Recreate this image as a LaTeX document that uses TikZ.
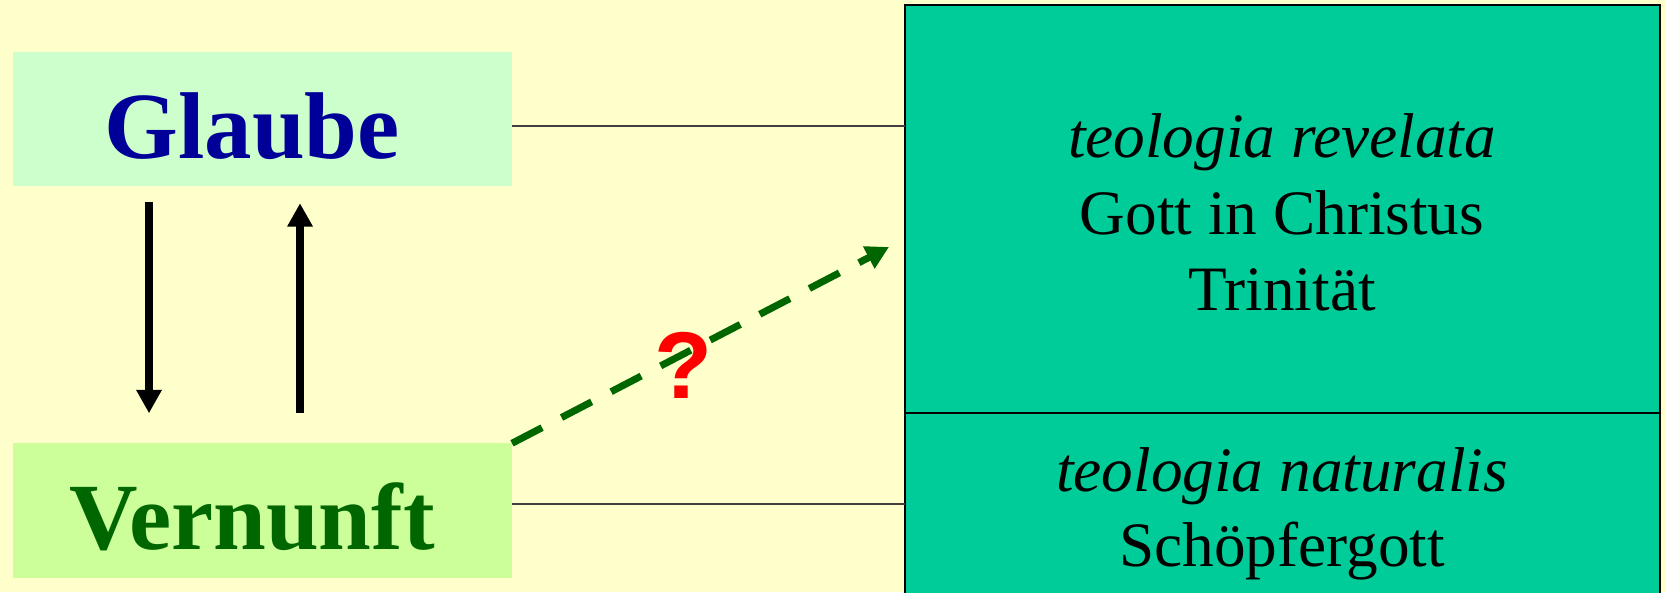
\documentclass[tikz,border=0pt]{standalone}
\usepackage{fontspec}
\setmainfont{Liberation Serif}
\newfontfamily\qfont{Liberation Sans}
\usetikzlibrary{arrows.meta}
\definecolor{bgYellow}{RGB}{255,255,204}
\definecolor{boxMint}{RGB}{204,255,204}
\definecolor{boxLime}{RGB}{204,255,153}
\definecolor{boxTeal}{RGB}{0,204,153}
\definecolor{textBlue}{RGB}{0,0,153}
\definecolor{textGreen}{RGB}{0,102,0}

\begin{document}
\begin{tikzpicture}[x=0.02cm, y=-0.02cm,
    wordbox/.style={rectangle, inner sep=0pt, outer sep=0pt, minimum width=284pt, minimum height=76.5pt},
    bigword/.style={font=\fontsize{54pt}{60pt}\selectfont\bfseries, anchor=base, inner sep=0pt},
    theobox/.style={rectangle, draw=black, line width=1.1pt, fill=boxTeal, minimum width=429.7pt, inner sep=0pt, outer sep=0pt},
    theoline/.style={font=\fontsize{36pt}{43pt}\selectfont, anchor=base, inner sep=0pt},
    thinline/.style={draw=black!75, line width=0.8pt},
    turnarrow/.style={line width=4.2pt, -{Triangle[length=13.3pt, width=13.7pt]}}]
      % Background
      \fill[bgYellow] (0,0) rectangle (1666,592);
      \useasboundingbox (0,0) rectangle (1666,592);

      % Glaube and Vernunft
      \node[wordbox, fill=boxMint] (gbox) at (262.5,119) {};
      \node[bigword, text=textBlue] (glaube) at (252,158) {Glaube};
      \node[wordbox, fill=boxLime] (vbox) at (262.5,510.5) {};
      \node[bigword, text=textGreen] (vernunft) at (252,549) {Vernunft};

      % Theology box
      \node[theobox, minimum height=232.2pt] (revbox) at (1282.5,209) {};
      \node[theobox, minimum height=117.8pt] (natbox) at (1282.5,516.5) {};
      \node[theoline] (rev1) at (1282,157) {\itshape teologia revelata};
      \node[theoline] (rev2) at (1282,234) {Gott in Christus};
      \node[theoline] (rev3) at (1282,310) {Trinität};
      \node[theoline] (nat1) at (1282,491) {\itshape teologia naturalis};
      \node[theoline] (nat2) at (1282,566) {Schöpfergott};

      % Connecting lines
      \draw[thinline] (gbox.east |- 0,126) -- (revbox.west |- 0,126);
      \draw[thinline] (vbox.east |- 0,504) -- (natbox.west |- 0,504);

      % Arrows between Glaube and Vernunft
      \draw[turnarrow] ([shift={(136,16)}]gbox.south west) -- ([shift={(136,-30)}]vbox.north west);
      \draw[turnarrow] ([shift={(287,-30)}]vbox.north west) -- ([shift={(287,17)}]gbox.south west);

      % Dashed arrow with question mark
      \coordinate (qtip) at (889,247);
      \draw[textGreen, line width=4pt, dash pattern=on 19.3pt off 12.5pt,
            -{Triangle[length=13pt, width=13.5pt]}] (vbox.north east) -- (qtip);
      \node[font=\qfont\fontsize{54pt}{60pt}\selectfont\bfseries, text=red, anchor=base, inner sep=0pt] (query) at (683,398) {?};
\end{tikzpicture}
\end{document}
